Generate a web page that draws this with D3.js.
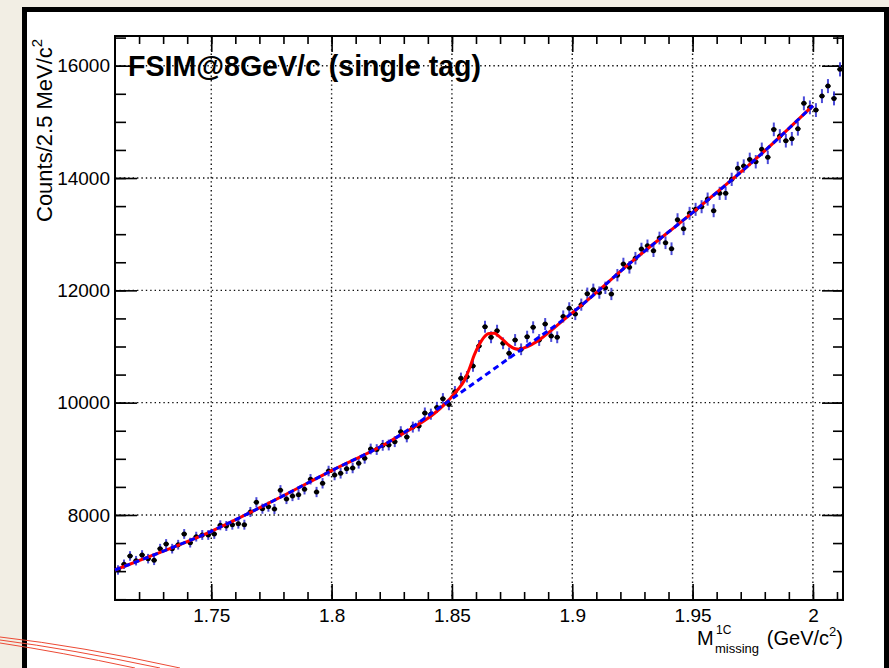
<!DOCTYPE html>
<html lang="en">
<head>
<meta charset="UTF-8">
<title>FSIM@8GeV/c (single tag)</title>
<script src="https://d3js.org/d3.v7.min.js"></script>
<style>
    body { margin: 0; background: #f2eee4; }
    svg { display: block; }
    text { font-family: "Liberation Sans", Arial, Helvetica, sans-serif; fill: #000; }
</style>
</head>
<body>
<script>
    // histogram: 2.5 MeV bins starting at 1.71 GeV
    const binLow = 1.71
    const binWidth = 0.0025
    const counts = [
        7021, 7122, 7270, 7186, 7288, 7222, 7193, 7400, 7484, 7400,
        7471, 7662, 7507, 7614, 7644, 7644, 7662, 7817, 7804, 7827,
        7845, 7827, 8053, 8226, 8112, 8148, 8107, 8440, 8285, 8338,
        8361, 8457, 8636, 8409, 8564, 8783, 8712, 8742, 8824, 8837,
        8920, 9009, 9175, 9165, 9240, 9246, 9305, 9483, 9390, 9565,
        9585, 9815, 9795, 9915, 10070, 9965, 10195, 10433, 10462, 10653,
        11009, 11352, 11164, 11281, 11057, 10879, 11116, 10950, 11175, 11342,
        11116, 11400, 11187, 11164, 11535, 11680, 11578, 11745, 11940, 12010,
        11960, 12045, 11935, 12270, 12469, 12410, 12572, 12735, 12792, 12706,
        12931, 12848, 12741, 13258, 13097, 13371, 13442, 13489, 13625, 13418,
        13727, 13727, 13976, 14172, 14213, 14332, 14290, 14511, 14368, 14866,
        14748, 14664, 14699, 14877, 15330, 15258, 15210, 15459, 15637, 15418,
        15935
    ]

    // background fit (blue dashed)
    const bgMass = [1.71, 1.725, 1.75, 1.775, 1.8, 1.825, 1.85, 1.875, 1.9, 1.925, 1.95, 1.975, 2.0]
    const bgFit  = [7020, 7270, 7710, 8235, 8790, 9330, 10070, 10830, 11600, 12520, 13385, 14290, 15290]

    // total fit (red), background + signal
    const totMass = [1.71, 1.725, 1.75, 1.775, 1.8, 1.825, 1.8495, 1.8523, 1.8551, 1.8572, 1.8593,
                     1.8613, 1.8634, 1.8655, 1.8676, 1.8696, 1.8717, 1.8738, 1.8759, 1.878, 1.88,
                     1.9, 1.925, 1.95, 1.975, 2.0]
    const totFit  = [7020, 7270, 7710, 8235, 8790, 9330, 10085, 10225, 10390, 10600, 10850,
                     11030, 11170, 11232, 11235, 11180, 11100, 11018, 10965, 10950, 10975,
                     11600, 12520, 13385, 14290, 15290]

    const xMajor = [1.75, 1.8, 1.85, 1.9, 1.95, 2.0]
    const xLabels = ['1.75', '1.8', '1.85', '1.9', '1.95', '2']
    const xMinor = d3.range(172, 202).map(v => v / 100)
    const yMajor = [8000, 10000, 12000, 14000, 16000]
    const yLabels = ['8000', '10000', '12000', '14000', '16000']
    const yMinor = d3.range(13, 34).map(v => v * 500)

    let width = 889
    let height = 668
    let plot = { left: 115, right: 843, top: 36, bottom: 600 }

    xScale = d3.scaleLinear()
        .domain([1.71, 2.0125])
        .range([plot.left, plot.right])

    yScale = d3.scaleLinear()
        .domain([6486, 16529])
        .range([plot.bottom, plot.top])

    let svg = d3.select('body').append('svg').attr('width', width).attr('height', height)

    // page + slide frame
    svg.append('rect').attr('width', width).attr('height', height).attr('fill', '#f2eee4')
    svg.append('rect')
        .attr('x', 24.5).attr('y', 9.5)
        .attr('width', 862).attr('height', 700)
        .attr('fill', '#fff').attr('stroke', '#000').attr('stroke-width', 5)

    // grid
    let grid = svg.append('g').attr('class', 'grid')
        .attr('stroke', '#111').attr('stroke-width', 1.4).attr('stroke-dasharray', '1.4,3')
    grid.selectAll('line.gx').data(xMajor).join('line')
        .attr('x1', d => xScale(d)).attr('x2', d => xScale(d))
        .attr('y1', plot.top).attr('y2', plot.bottom)
    grid.selectAll('line.gy').data(yMajor).join('line')
        .attr('x1', plot.left).attr('x2', plot.right)
        .attr('y1', d => yScale(d)).attr('y2', d => yScale(d))

    // axes (ticks inside the frame)
    function styleAxis(g) {
        g.select('.domain').remove()
        g.selectAll('.tick line').attr('stroke', '#000').attr('stroke-width', 1.6)
        g.selectAll('.tick text').attr('font-size', 19).attr('font-family', '"Liberation Sans", Arial, sans-serif')
            .attr('fill', '#000')
    }

    svg.append('g').attr('transform', `translate(0,${plot.bottom})`)
        .call(d3.axisBottom(xScale).tickValues(xMinor).tickSize(-8).tickFormat(''))
        .call(styleAxis)
    svg.append('g').attr('transform', `translate(0,${plot.bottom})`)
        .call(d3.axisBottom(xScale).tickValues(xMajor).tickSize(-16).tickPadding(9)
            .tickFormat((d, i) => xLabels[i]))
        .call(styleAxis)
    svg.append('g').attr('transform', `translate(0,${plot.top})`)
        .call(d3.axisTop(xScale).tickValues(xMinor).tickSize(-8).tickFormat(''))
        .call(styleAxis)
    svg.append('g').attr('transform', `translate(0,${plot.top})`)
        .call(d3.axisTop(xScale).tickValues(xMajor).tickSize(-16).tickFormat(''))
        .call(styleAxis)

    svg.append('g').attr('transform', `translate(${plot.left},0)`)
        .call(d3.axisLeft(yScale).tickValues(yMinor).tickSize(-11).tickFormat(''))
        .call(styleAxis)
    svg.append('g').attr('transform', `translate(${plot.left},0)`)
        .call(d3.axisLeft(yScale).tickValues(yMajor).tickSize(-22).tickPadding(5)
            .tickFormat((d, i) => yLabels[i]))
        .call(styleAxis)
    svg.append('g').attr('transform', `translate(${plot.right},0)`)
        .call(d3.axisRight(yScale).tickValues(yMinor).tickSize(-10).tickFormat(''))
        .call(styleAxis)
    svg.append('g').attr('transform', `translate(${plot.right},0)`)
        .call(d3.axisRight(yScale).tickValues(yMajor).tickSize(-21).tickFormat(''))
        .call(styleAxis)

    svg.append('rect')
        .attr('x', plot.left).attr('y', plot.top)
        .attr('width', plot.right - plot.left).attr('height', plot.bottom - plot.top)
        .attr('fill', 'none').attr('stroke', '#000').attr('stroke-width', 2)

    // data points with poisson errors
    const pts = counts.map((n, i) => ({ m: binLow + (i + 0.5) * binWidth, n: n }))
    let dataG = svg.append('g').attr('class', 'data')
    dataG.selectAll('line.err').data(pts).join('line')
        .attr('class', 'err')
        .attr('x1', d => xScale(d.m)).attr('x2', d => xScale(d.m))
        .attr('y1', d => yScale(d.n + Math.sqrt(d.n)))
        .attr('y2', d => yScale(d.n - Math.sqrt(d.n)))
        .attr('stroke', '#2b2bd2').attr('stroke-width', 2).attr('stroke-opacity', 0.85)
    dataG.selectAll('line.xerr').data(pts).join('line')
        .attr('class', 'xerr')
        .attr('x1', d => xScale(d.m - binWidth * 0.45)).attr('x2', d => xScale(d.m + binWidth * 0.45))
        .attr('y1', d => yScale(d.n)).attr('y2', d => yScale(d.n))
        .attr('stroke', '#000').attr('stroke-width', 1.6)
    dataG.selectAll('circle').data(pts).join('circle')
        .attr('cx', d => xScale(d.m)).attr('cy', d => yScale(d.n))
        .attr('r', 2.5).attr('fill', '#000')

    // fit curves
    const line = d3.line().curve(d3.curveMonotoneX).x(d => xScale(d[0])).y(d => yScale(d[1]))
    svg.append('path')
        .datum(d3.zip(totMass, totFit))
        .attr('d', line)
        .attr('fill', 'none').attr('stroke', '#ff0000').attr('stroke-width', 3)
    svg.append('path')
        .datum(d3.zip(bgMass, bgFit))
        .attr('d', line)
        .attr('fill', 'none').attr('stroke', '#0000ff').attr('stroke-width', 3)
        .attr('stroke-dasharray', '6,4')

    // titles
    svg.append('text')
        .attr('x', 128).attr('y', 76)
        .attr('font-size', 29).attr('font-weight', 'bold')
        .attr('textLength', 353).attr('lengthAdjust', 'spacingAndGlyphs')
        .text('FSIM@8GeV/c (single tag)')

    let yt = svg.append('text')
        .attr('transform', 'translate(52,222) rotate(-90)')
        .attr('font-size', 22)
    yt.append('tspan').text('Counts/2.5 MeV/c')
    yt.append('tspan').attr('dy', -10).attr('font-size', 15).text('2')

    svg.append('text').attr('x', 697).attr('y', 645).attr('font-size', 20).text('M')
    svg.append('text').attr('x', 716).attr('y', 634).attr('font-size', 12).text('1C')
    svg.append('text').attr('x', 715).attr('y', 653).attr('font-size', 13).text('missing')
    let xt = svg.append('text')
        .attr('x', 843).attr('y', 645).attr('text-anchor', 'end')
        .attr('font-size', 20)
    xt.append('tspan').text('(GeV/c')
    xt.append('tspan').attr('dy', -9).attr('font-size', 13).text('2')
    xt.append('tspan').attr('dy', 9).text(')')

    // red pen strokes in the lower left corner of the slide
    let pen = svg.append('g').attr('stroke', '#ec4a35').attr('fill', 'none').attr('stroke-width', 1)
    pen.append('path').attr('d', 'M0,637 Q80,646 180,668')
    pen.append('path').attr('d', 'M0,640 Q70,649 160,668')
    pen.append('path').attr('d', 'M0,643 Q60,652 135,668')
</script>
</body>
</html>
